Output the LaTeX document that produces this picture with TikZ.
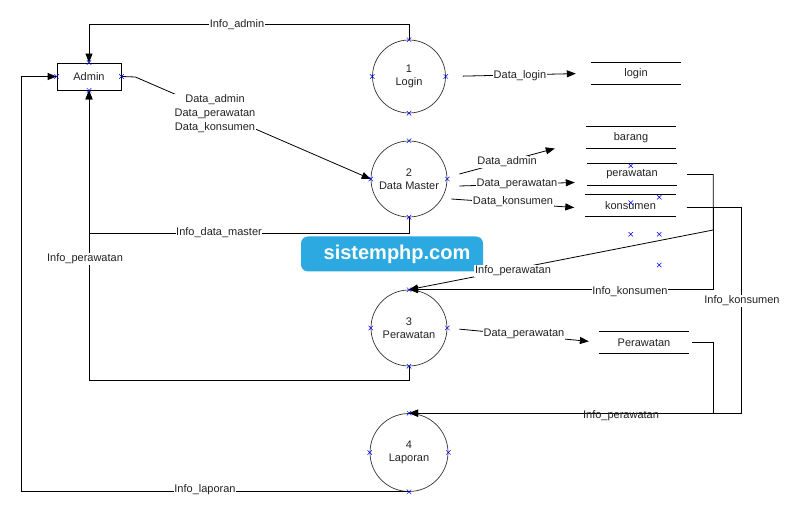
\documentclass[tikz,border=0pt]{standalone}
\usepackage{fontspec}
\setmainfont{Liberation Sans}
\usepackage{xcolor}
\definecolor{LineBlk}{HTML}{000000}
\definecolor{CircGray}{HTML}{333333}
\definecolor{TxtGray}{HTML}{222222}
\definecolor{PtBlue}{HTML}{0000EE}
\definecolor{WmBlue}{HTML}{2BA9E0}
\usetikzlibrary{positioning,calc,arrows.meta}
\tikzset{
  ent/.style={draw=LineBlk,line width=0.8pt,minimum width=64pt,minimum height=27pt,
    inner sep=0pt,text=TxtGray},
  proc/.style={circle,draw=CircGray,line width=0.7pt,minimum size=76pt,inner sep=0pt,
    align=center,text=TxtGray},
  store/.style={minimum width=90pt,minimum height=22pt,inner sep=0pt,text=TxtGray},
  flow/.style={-{Triangle[length=9pt,width=7pt]},draw=LineBlk,line width=0.8pt},
  plain/.style={draw=LineBlk,line width=0.8pt},
  lbl/.style={fill=white,inner sep=0.6pt,text=TxtGray,align=center},
  xm/.style={draw=PtBlue,line width=0.5pt},
  wm/.style={fill=WmBlue,rounded corners=7pt,minimum width=182pt,minimum height=35pt,
    text=white,font=\fontsize{20}{22}\selectfont\bfseries},
}
\newcommand{\ptmark}[1]{\draw[xm] (#1) +(-2.2pt,-2.2pt) -- +(2.2pt,2.2pt)
  +(-2.2pt,2.2pt) -- +(2.2pt,-2.2pt);}

\begin{document}
\begin{tikzpicture}[x=1pt,y=-1pt,font=\fontsize{11}{13}\selectfont]
\useasboundingbox (0,0) rectangle (793,510);
% watermark
\node[wm] (wmark) at (392,254) {\hspace*{10pt}sistemphp.com};

% entity and processes
\node[ent] (admin) at (89,76.5) {Admin};
\node[proc,minimum size=73pt] (login) at (409,76.5) {1\\Login};
\node[proc] (dm) at (409,179) {2\\Data Master};
\node[proc] (p3) at (409,328) {3\\Perawatan};
\node[proc,minimum size=78pt] (p4) at (409,452.5) {4\\Laporan};

% data stores
\node[store] (lgS) at (636,73.3) {login};
\node[store] (brS) at (631,137.3) {barang};
\node[store] (perS) at (632,174.5) {perawatan};
\node[store] (konS) at (630.5,205.5) {konsumen};
\node[store] (prwS) at (644,342.3) {Perawatan};
\foreach \s in {lgS,brS,perS,konS,prwS}
  \draw[plain] (\s.north west) -- (\s.north east) (\s.south west) -- (\s.south east);

% flows of process 1
\draw[flow] (login.north) -- ++(0,-15) -| (admin.north);
\draw[flow,shorten <=17pt,shorten >=15pt] (login.east) -- (lgS.west);
% admin into process 2
\draw[flow] (admin.east) -- ++(14,0.5) -- (dm.west);
% flows of process 2
\draw[flow] ($(dm.east)+(12,-5)$) -- ($(brS.south west)+(-31,0)$);
\draw[flow] ($(dm.east)+(12,7)$) -- ($(perS.west)+(-12,8)$);
\draw[flow] ($(dm.east)+(4,20)$) -- ($(konS.west)+(-11,2)$);
\draw[flow] (dm.south) -- ++(0,16) -| (admin.south);
% flows of process 3
\draw[flow] ($(perS.east)+(10,0)$) -- ++(26,0) -- ++(0,55.5) -- (p3.north);
\draw[flow] ($(konS.east)+(11,2)$) -- ++(27,0) |- (p3.north);
\draw[flow,shorten <=12pt,shorten >=10pt] (p3.east) -- (prwS.west);
\draw[flow] (p3.south) -- ++(0,14) -| (admin.south);
% flows of process 4
\draw[flow] ($(konS.east)+(11,2)$) -- ++(55,0) |- (p4.north);
\draw[flow] ($(prwS.east)+(3,0)$) -- ++(21,0) |- (p4.north);
\draw[flow] (p4.south) -- ++(-388,0) |- (admin.west);

% labels
\node[lbl] (tAdm) at (237,25) {Info\_admin};
\node[lbl] (tLgn) at (520,76) {Data\_login};
\node[lbl] (tAdmDm) at (215,113.5) {Data\_admin\\[1pt]Data\_perawatan\\[1pt]Data\_konsumen};
\node[lbl] (tDa) at (507,162) {Data\_admin};
\node[lbl] (tDp) at (517,184) {Data\_perawatan};
\node[lbl] (tDk) at (513,202) {Data\_konsumen};
\node[lbl] (tIdm) at (219,233) {Info\_data\_master};
\node[lbl] (tIpL) at (85,259) {Info\_perawatan};
\node[lbl] (tIpD) at (513,271) {Info\_perawatan};
\node[lbl] (tIk1) at (630,292) {Info\_konsumen};
\node[lbl] (tIk2) at (742,301) {Info\_konsumen};
\node[lbl] (tDp3) at (524,334) {Data\_perawatan};
\node[lbl,fill=none] (tIpB) at (621,416) {Info\_perawatan};
\node[lbl] (tIl) at (205,490) {Info\_laporan};

% connection points
\foreach \n in {admin,login,dm,p3,p4}{
  \foreach \a in {north,south,east,west}{\ptmark{\n.\a}}}
\foreach \px/\py in {630.7/165.7,659.3/197.3,630.7/202.7,630.7/234.3,659.3/234.3,659.3/265}{
  \ptmark{\px,\py}}
\end{tikzpicture}
\end{document}
